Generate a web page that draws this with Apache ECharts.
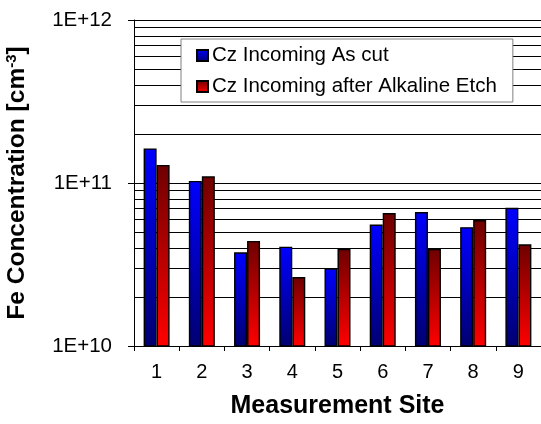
<!DOCTYPE html>
<html>
<head>
<meta charset="utf-8">
<script src="https://cdn.jsdelivr.net/npm/echarts@6/dist/echarts.min.js"></script>
<style>
  html, body { margin: 0; padding: 0; background: #fff; }
  #chart { width: 541px; height: 424px; }
</style>
</head>
<body>
<div id="chart"></div>
<script>
// data
var sites = ['1', '2', '3', '4', '5', '6', '7', '8', '9']
var asCut = [1.63e11, 1.03e11, 3.76e10, 4.07e10, 2.99e10, 5.56e10, 6.63e10, 5.36e10, 7.05e10]
var afterEtch = [1.29e11, 1.10e11, 4.41e10, 2.65e10, 3.94e10, 6.54e10, 3.94e10, 5.92e10, 4.21e10]
var yTickLabels = ['1E+10', '1E+11', '1E+12']
var minorGrid = [2e10, 3e10, 4e10, 5e10, 6e10, 7e10, 8e10, 9e10,
  2e11, 3e11, 4e11, 5e11, 6e11, 7e11, 8e11, 9e11]

var font = '"Liberation Sans", Arial, sans-serif'

var blueFill = new echarts.graphic.LinearGradient(0, 0, 0, 1, [
  { offset: 0, color: '#0000ff' },
  { offset: 1, color: '#000070' }
])
var redFill = new echarts.graphic.LinearGradient(0, 0, 0, 1, [
  { offset: 0, color: '#6e0000' },
  { offset: 1, color: '#ff0000' }
])

var myChart = echarts.init(document.getElementById('chart'))

var option = {
  animation: false,
  backgroundColor: '#fff',
  textStyle: { fontFamily: font },
  grid: {
    left: 134,
    top: 20,
    right: 0,
    bottom: 78,
    containLabel: false,
    outerBoundsMode: 'none'
  },
  legend: {
    orient: 'vertical',
    left: 181,
    top: 39,
    z: 20,
    padding: [6, 16, 5, 15],
    itemGap: 10,
    itemWidth: 11,
    itemHeight: 11,
    backgroundColor: '#fff',
    borderColor: '#808080',
    borderWidth: 1,
    borderRadius: 0,
    icon: 'rect',
    textStyle: {
      fontFamily: font,
      fontSize: 20.5,
      lineHeight: 20,
      color: '#000',
      padding: [0, 0, 0, -1]
    },
    data: ['Cz Incoming As cut', 'Cz Incoming after Alkaline Etch']
  },
  xAxis: {
    type: 'category',
    data: sites,
    name: 'Measurement Site',
    nameLocation: 'middle',
    nameGap: 48,
    nameTextStyle: {
      fontFamily: font,
      fontSize: 25,
      fontWeight: 'bold',
      color: '#000'
    },
    axisLine: { lineStyle: { color: '#000', width: 1 } },
    axisTick: { show: true, length: 5, lineStyle: { color: '#000' } },
    axisLabel: {
      margin: 16,
      fontFamily: font,
      fontSize: 20,
      color: '#000'
    }
  },
  yAxis: {
    type: 'log',
    logBase: 10,
    min: 1e10,
    max: 1e12,
    name: '{t|Fe Concentration [cm}{s|-3}{t|]}',
    nameLocation: 'middle',
    nameGap: 104,
    nameTextStyle: {
      rich: {
        t: { fontFamily: font, fontSize: 24.5, fontWeight: 'bold', color: '#000', verticalAlign: 'bottom', lineHeight: 26 },
        s: { fontFamily: font, fontSize: 15, fontWeight: 'bold', color: '#000', verticalAlign: 'top', padding: [0, 0, 10, 0], lineHeight: 26 }
      }
    },
    axisLine: { show: true, lineStyle: { color: '#000', width: 1 } },
    axisTick: { show: true, length: 6, lineStyle: { color: '#000' } },
    axisLabel: {
      margin: 22,
      fontFamily: font,
      fontSize: 20.5,
      color: '#000',
      formatter: function (value, index) {
        return yTickLabels[index]
      }
    },
    splitLine: { show: true, lineStyle: { color: '#000', width: 1 } }
  },
  series: [
    {
      name: 'Cz Incoming As cut',
      type: 'bar',
      data: asCut,
      barWidth: 13,
      barGap: '0%',
      z: 3,
      itemStyle: { color: blueFill, borderColor: '#000', borderWidth: 1.4 },
      markLine: {
        silent: true,
        z: 0,
        symbol: ['none', 'none'],
        label: { show: false },
        lineStyle: { color: '#000', type: 'solid', width: 1 },
        emphasis: { disabled: true },
        data: minorGrid.map(function (v) { return { yAxis: v } })
      }
    },
    {
      name: 'Cz Incoming after Alkaline Etch',
      type: 'bar',
      data: afterEtch,
      barWidth: 13,
      barGap: '0%',
      z: 3,
      itemStyle: { color: redFill, borderColor: '#000', borderWidth: 1.4 }
    }
  ]
}

myChart.setOption(option, true)
</script>
</body>
</html>
